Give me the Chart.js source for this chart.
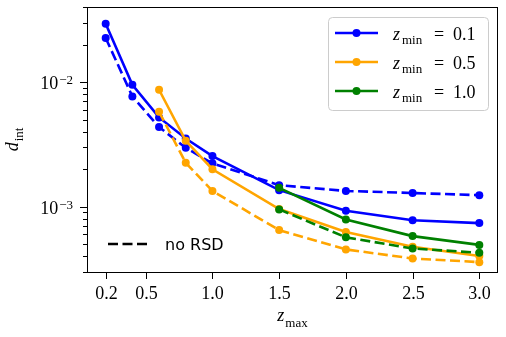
<!DOCTYPE html>
<html>
<head>
<meta charset="utf-8">
<script src="https://cdn.jsdelivr.net/npm/chart.js@4.4.1/dist/chart.umd.min.js"></script>
<style>
  html, body { margin: 0; padding: 0; background: #fff; }
</style>
</head>
<body>
<canvas id="chart" width="506" height="337"></canvas>
<script>
// values
const zmax = [0.2, 0.4, 0.6, 0.8, 1.0, 1.5, 2.0, 2.5, 3.0];
const dInt01 = [0.0294, 0.00952, 0.00521, 0.00353, 0.00255, 0.00136, 0.00093, 0.00078, 0.00074];
const dInt01NoRsd = [0.0226, 0.00767, 0.00436, 0.00297, 0.00223, 0.00149, 0.00134, 0.00129, 0.00124];
const dInt05 = [null, null, 0.00868, 0.00338, 0.00200, 0.00096, 0.000627, 0.000478, 0.000403];
const dInt05NoRsd = [null, null, 0.00578, 0.00225, 0.00134, 0.00065, 0.000455, 0.000385, 0.00036];
const dInt10 = [null, null, null, null, null, 0.00142, 0.000792, 0.000582, 0.000495];
const dInt10NoRsd = [null, null, null, null, null, 0.000953, 0.000569, 0.000463, 0.000428];

const xTicks = [0.2, 0.5, 1.0, 1.5, 2.0, 2.5, 3.0];
const xTickLabels = ['0.2', '0.5', '1.0', '1.5', '2.0', '2.5', '3.0'];
const yDecades = [-3, -2];
const zminLabels = ['0.1', '0.5', '1.0'];
const colors = ['#0000ff', '#ffa500', '#008000'];

const SERIF = 'Liberation Serif';

function pts(arr){
  return zmax.map((x, i) => ({ x, y: arr[i] })).filter(p => p.y !== null);
}

function series(arr, color, dashed, order){
  return {
    data: pts(arr),
    borderColor: color, backgroundColor: color,
    borderWidth: 2.6, borderDash: dashed ? [10, 4.5] : [],
    pointRadius: 4, pointBorderWidth: 0, pointBackgroundColor: color,
    tension: 0, order
  };
}

// draw a run of text pieces (font / vertical offset each)
function drawParts(ctx, parts, x, y, align){
  let total = 0;
  for (const p of parts){ ctx.font = p.font; total += ctx.measureText(p.t).width + (p.gap || 0); }
  let cx = align === 'right' ? x - total : align === 'center' ? x - total / 2 : x;
  ctx.textAlign = 'left';
  ctx.textBaseline = 'alphabetic';
  for (const p of parts){
    cx += p.gap || 0;
    ctx.font = p.font;
    ctx.fillText(p.t, cx, y + (p.dy || 0));
    cx += ctx.measureText(p.t).width;
  }
}

const decor = {
  id: 'decor',
  afterDraw(chart){
    const { ctx, chartArea: a, scales: { x, y } } = chart;
    ctx.save();
    ctx.fillStyle = '#000';
    ctx.strokeStyle = '#000';
    ctx.lineWidth = 1;
    ctx.setLineDash([]);
    ctx.strokeRect(a.left + 0.5, a.top + 0.5, a.right - a.left - 1, a.bottom - a.top);

    // y ticks (log, major + minor)
    for (let e = -4; e <= -1; e++){
      for (let m = 1; m <= 9; m++){
        const v = m * Math.pow(10, e);
        if (v < y.min || v > y.max) continue;
        const py = Math.round(y.getPixelForValue(v)) + 0.5;
        const len = m === 1 ? 7 : 4;
        ctx.beginPath(); ctx.moveTo(a.left - len, py); ctx.lineTo(a.left, py); ctx.stroke();
      }
    }
    for (const e of yDecades){
      const py = y.getPixelForValue(Math.pow(10, e));
      drawParts(ctx, [
        { t: '10', font: `18px "${SERIF}"` },
        { t: '\u2212' + (-e), font: `13px "${SERIF}"`, dy: -5, gap: 1 }
      ], 73, py + 7, 'right');
    }

    // x ticks
    xTicks.forEach((v, i) => {
      const px = Math.round(x.getPixelForValue(v)) + 0.5;
      ctx.beginPath(); ctx.moveTo(px, a.bottom); ctx.lineTo(px, a.bottom + 7); ctx.stroke();
      ctx.font = `18px "${SERIF}"`;
      ctx.textAlign = 'center';
      ctx.fillText(xTickLabels[i], px, 299);
    });

    // axis titles
    drawParts(ctx, [
      { t: 'z', font: `italic 18px "${SERIF}"` },
      { t: 'max', font: `13px "${SERIF}"`, dy: 6, gap: 1 }
    ], (a.left + a.right) / 2, 321, 'center');
    ctx.save();
    ctx.translate(17.5, (a.top + a.bottom) / 2);
    ctx.rotate(-Math.PI / 2);
    drawParts(ctx, [
      { t: 'd', font: `italic 18px "${SERIF}"` },
      { t: 'int', font: `13px "${SERIF}"`, dy: 5, gap: 1 }
    ], 0, 0, 'center');
    ctx.restore();

    // legend box
    ctx.beginPath();
    ctx.roundRect(328.5, 17.5, 160, 93, 4);
    ctx.fillStyle = 'rgba(255,255,255,0.8)';
    ctx.fill();
    ctx.strokeStyle = '#cccccc';
    ctx.stroke();
    zminLabels.forEach((lab, i) => {
      const ly = 33 + 29 * i;
      ctx.strokeStyle = colors[i];
      ctx.fillStyle = colors[i];
      ctx.lineWidth = 2.6;
      ctx.beginPath(); ctx.moveTo(335, ly); ctx.lineTo(378, ly); ctx.stroke();
      ctx.beginPath(); ctx.arc(356.5, ly, 4, 0, Math.PI * 2); ctx.fill();
      ctx.fillStyle = '#000';
      ctx.font = `italic 18px "${SERIF}"`; ctx.textAlign = 'left';
      ctx.fillText('z', 393, ly + 6.5);
      ctx.font = `13px "${SERIF}"`;
      ctx.fillText('min', 402, ly + 11);
      ctx.font = `18px "${SERIF}"`;
      ctx.fillText('=', 434, ly + 6.5);
      ctx.fillText(lab, 453, ly + 6.5);
    });

    // "no RSD" line style note
    ctx.strokeStyle = '#000';
    ctx.lineWidth = 2.6;
    ctx.setLineDash([10, 4.5]);
    ctx.beginPath(); ctx.moveTo(108, 244); ctx.lineTo(148, 244); ctx.stroke();
    ctx.setLineDash([]);
    ctx.fillStyle = '#000';
    ctx.font = '16px "DejaVu Sans"';
    ctx.textAlign = 'left';
    ctx.fillText('no RSD', 165, 250);
    ctx.restore();
  }
};

new Chart(document.getElementById('chart'), {
  type: 'line',
  data: {
    datasets: [
      series(dInt01, colors[0], false, 5),
      series(dInt01NoRsd, colors[0], true, 4),
      series(dInt05, colors[1], false, 3),
      series(dInt05NoRsd, colors[1], true, 2),
      series(dInt10, colors[2], false, 1),
      series(dInt10NoRsd, colors[2], true, 0)
    ]
  },
  options: {
    responsive: false, animation: false, devicePixelRatio: 1,
    layout: { padding: { left: 0, right: 8, top: 7, bottom: 0 } },
    plugins: { legend: { display: false }, tooltip: { enabled: false } },
    scales: {
      x: {
        type: 'linear', min: 0.06, max: 3.14,
        ticks: { display: false }, grid: { display: false }, border: { display: false },
        afterFit: s => { s.height = 65; }
      },
      y: {
        type: 'logarithmic', min: 3e-4, max: 0.04,
        ticks: { display: false }, grid: { display: false }, border: { display: false },
        afterFit: s => { s.width = 87; }
      }
    }
  },
  plugins: [decor]
});
</script>
</body>
</html>
